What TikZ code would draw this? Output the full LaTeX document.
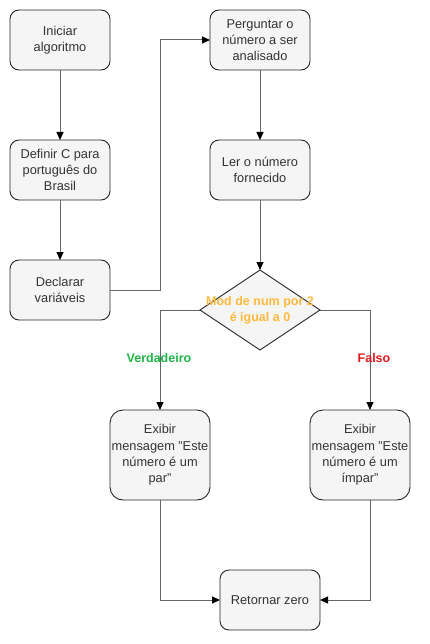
\documentclass[tikz,border=0pt]{standalone}
\usepackage{fontspec}
\setmainfont{Liberation Sans}
\usetikzlibrary{shapes.geometric,arrows.meta}
\definecolor{boxfill}{HTML}{F5F5F5}
\definecolor{boxtext}{HTML}{333333}
\definecolor{linegray}{HTML}{666666}
\definecolor{condorange}{HTML}{FFB93C}
\definecolor{truegreen}{HTML}{1FB346}
\definecolor{falsered}{HTML}{E3161B}
\tikzset{
  stepbox/.style={draw=black!85, fill=boxfill, line width=0.9pt, rounded corners=9pt,
    minimum width=100pt, minimum height=60pt, inner sep=0pt, outer sep=0pt,
    align=center, text=boxtext, font=\fontsize{12.8}{16.3}\selectfont},
  tallbox/.style={stepbox, minimum height=90pt, rounded corners=13pt},
  decision/.style={diamond, draw=black!85, fill=boxfill, line width=0.9pt,
    minimum width=120pt, minimum height=80pt, inner sep=0pt, outer sep=0pt},
  conn/.style={draw=linegray, line width=1pt,
    -{Triangle[length=8pt,width=7pt,color=black]}},
  lbl/.style={font=\bfseries\fontsize{12.5}{15}\selectfont, inner sep=0pt}
}
\begin{document}
\begin{tikzpicture}[x=1pt,y=-1pt]
\useasboundingbox (0,0) rectangle (430,644);
\node[stepbox] (ini) at (60,40) {Iniciar\\algoritmo};
\node[stepbox] (def) at (60,170) {Definir C para\\português do\\Brasil};
\node[stepbox] (dec) at (60,290) {Declarar\\variáveis};
\node[stepbox] (per) at (260,40) {Perguntar o\\número a ser\\analisado};
\node[stepbox] (ler) at (260,170) {Ler o número\\fornecido};
\node[decision] (dd) at (260,310) {};
\node[lbl, text=condorange, align=center, font=\bfseries\fontsize{12.5}{16}\selectfont] (ddt) at (260,310) {Mod de num por 2\\é igual a 0};
\node[tallbox] (par) at (160,455) {Exibir\\mensagem "Este\\número é um\\par"};
\node[tallbox] (imp) at (360,455) {Exibir\\mensagem "Este\\número é um\\ímpar"};
\node[stepbox] (ret) at (270,600) {Retornar zero};
\coordinate (c1) at (160,290);
\coordinate (c2) at (160,40);
\coordinate (c3) at (160,310);
\coordinate (c4) at (370,310);
\coordinate (c5) at (160,600);
\coordinate (c6) at (370,600);
\path[conn] (ini) -- (def);
\path[conn] (def) -- (dec);
\path[conn] (dec.east) -- (c1) -- (c2) -- (per.west);
\path[conn] (per) -- (ler);
\path[conn] (ler) -- (dd.north);
\path[conn] (dd.west) -- (c3) -- (par.north);
\path[conn] (dd.east) -- (c4) -- (imp.north -| c4);
\path[conn] (par.south) -- (c5) -- (ret.west);
\path[conn] (imp.south -| c6) -- (c6) -- (ret.east);
\node[lbl, text=truegreen] (vtxt) at (159,358) {Verdadeiro};
\node[lbl, text=falsered] (ftxt) at (374,358) {Falso};
\end{tikzpicture}
\end{document}
